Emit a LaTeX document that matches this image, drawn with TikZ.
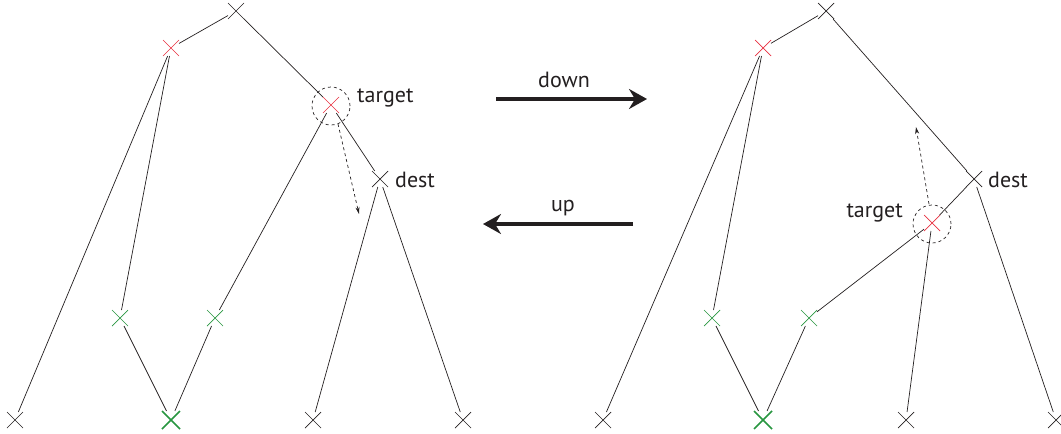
\documentclass[tikz,border=0pt]{standalone}
\usepackage{fontspec}
\setmainfont{PT Sans}
\usetikzlibrary{shapes.misc,arrows.meta}
\definecolor{mkred}{RGB}{232,48,64}
\definecolor{mkgreen}{RGB}{40,150,64}
\definecolor{ink}{RGB}{35,31,32}
\begin{document}
\begin{tikzpicture}[x=1pt,y=-1pt,
  mk/.style={cross out,draw=ink,line width=0.7pt,minimum size=11pt,inner sep=0pt,outer sep=2.5pt},
  mkr/.style={mk,draw=mkred},
  mkg/.style={mk,draw=mkgreen},
  mkgb/.style={mk,draw=mkgreen,line width=1.6pt,minimum size=13pt},
  edge/.style={draw=ink,line width=0.7pt},
  ring/.style={circle,draw=ink,dashed,line width=0.7pt,minimum size=38pt,inner sep=0pt},
  hop/.style={draw=ink,dashed,line width=0.7pt,-{Stealth[length=7pt,width=4pt]}},
  bigarrow/.style={draw=ink,line width=4.4pt,-{Stealth[length=18pt,width=20pt,inset=6pt]}},
  lbl/.style={font=\fontsize{22}{26}\selectfont,text=ink,inner sep=0pt}]
\useasboundingbox (0,0) rectangle (1061,434);

% left tree
\node[mk]   (lr)  at (236,11)  {};
\node[mkr]  (la)  at (171,48)  {};
\node[mkr]  (lt)  at (331,105) {};
\node[ring] (lc)  at (331,106) {};
\node[mk]   (ld)  at (380,179) {};
\node[mkg]  (lg1) at (120,318) {};
\node[mkg]  (lg2) at (215,318) {};
\node[mk]   (lb1) at (15,420)  {};
\node[mkgb] (lb2) at (171,420) {};
\node[mk]   (lb3) at (313,420) {};
\node[mk]   (lb4) at (463,420) {};
\node[lbl,anchor=west] (ltl) at (357,98)  {target};
\node[lbl,anchor=west] (ldl) at (395,180) {dest};
\coordinate (lhs) at (338,124);
\coordinate (lhe) at (359,214);

\path[edge] (lr) -- (la);
\path[edge] (lr) -- (lt);
\path[edge] (la) -- (lb1);
\path[edge] (la) -- (lg1);
\path[edge] (lt) -- (lg2);
\path[edge] (lt) -- (ld);
\path[edge] (ld) -- (lb3);
\path[edge] (ld) -- (lb4);
\path[edge] (lg1) -- (lb2);
\path[edge] (lg2) -- (lb2);
\path[hop] (lhs) -- (lhe);

% right tree
\node[mk]   (rr)  at (826,11)  {};
\node[mkr]  (ra)  at (763,48)  {};
\node[mk]   (rd)  at (974,179) {};
\node[mkr]  (rt)  at (932,223) {};
\node[ring] (rc)  at (932,224) {};
\node[mkg]  (rg1) at (712,318) {};
\node[mkg]  (rg2) at (809,318) {};
\node[mk]   (rb1) at (603,420) {};
\node[mkgb] (rb2) at (763,420) {};
\node[mk]   (rb3) at (906,420) {};
\node[mk]   (rb4) at (1056,420) {};
\node[lbl,anchor=east] (rtl) at (903,213) {target};
\node[lbl,anchor=west] (rdl) at (988,180) {dest};
\coordinate (rhs) at (929,204);
\coordinate (rhe) at (916,127);

\path[edge] (rr) -- (ra);
\path[edge] (rr) -- (rd);
\path[edge] (ra) -- (rb1);
\path[edge] (ra) -- (rg1);
\path[edge] (rd) -- (rt);
\path[edge] (rd) -- (rb4);
\path[edge] (rt) -- (rg2);
\path[edge] (rt) -- (rb3);
\path[edge] (rg1) -- (rb2);
\path[edge] (rg2) -- (rb2);
\path[hop] (rhs) -- (rhe);

% transitions between the two trees
\coordinate (das) at (496,99);
\coordinate (dae) at (647,99);
\coordinate (uas) at (633,224);
\coordinate (uae) at (483,224);
\path[bigarrow] (das) -- (dae);
\path[bigarrow] (uas) -- (uae);
\node[lbl] (dl) at (564,80)  {down};
\node[lbl] (ul) at (563,208) {up};
\end{tikzpicture}
\end{document}
